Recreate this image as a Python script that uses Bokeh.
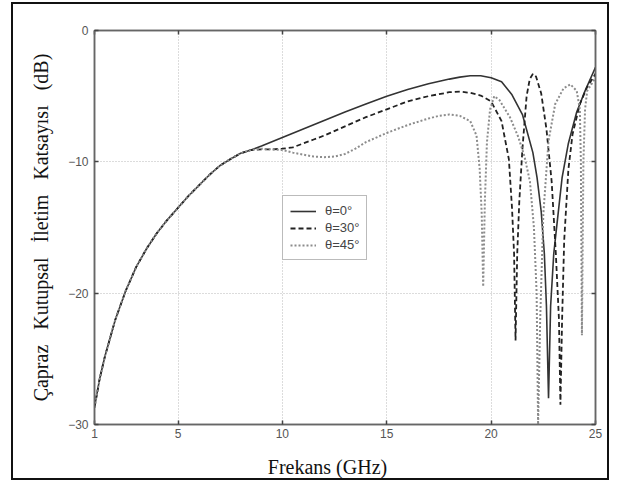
from bokeh.plotting import figure
from bokeh.models import (FixedTicker, LinearAxis, Legend, LegendItem, Range1d,
                          CustomJSTickFormatter)
from bokeh.embed import file_html
from bokeh.resources import INLINE

# ---- data ----
x_common = [1, 1.25, 1.5, 2, 2.5, 3, 3.5, 4, 4.5, 5, 5.5, 6, 6.5, 7, 7.5, 8, 8.5]
y_common = [-28.7, -26.5, -24.8, -22.0, -19.8, -18.0, -16.6, -15.4, -14.4, -13.5,
            -12.6, -11.8, -11.0, -10.3, -9.8, -9.35, -9.1]

x_t0 = [9, 10, 11, 12, 13, 14, 15, 16, 17, 18, 18.5, 19, 19.5, 20, 20.5, 21, 21.5,
        22.0, 22.2, 22.4, 22.55, 22.65, 22.75, 22.85, 23.0, 23.15, 23.4, 23.7, 24.1, 24.5, 25]
y_t0 = [-8.8, -8.15, -7.5, -6.85, -6.2, -5.6, -5.0, -4.5, -4.05, -3.7, -3.55, -3.45, -3.45,
        -3.6, -3.9, -4.9, -6.4, -9.3, -11.2, -13.8, -17.0, -21.0, -28.0, -21.0, -17.0,
        -14.8, -11.2, -8.6, -6.2, -4.6, -2.8]

x_t30 = [9, 9.5, 10, 10.5, 11, 11.5, 12, 13, 14, 15, 16, 17, 18, 18.5, 19, 19.5, 20, 20.5,
         20.85, 21.0, 21.1, 21.17, 21.25, 21.35, 21.5, 21.7, 21.85, 22.0, 22.15, 22.4, 22.65,
         22.9, 23.1, 23.25, 23.32, 23.4, 23.5, 23.7, 23.9, 24.25, 24.6, 25]
y_t30 = [-9.05, -9.05, -9.0, -8.9, -8.6, -8.3, -8.0, -7.3, -6.6, -6.0, -5.4, -5.0, -4.7,
         -4.65, -4.75, -4.95, -5.4, -6.9, -9.8, -13.5, -17.0, -23.6, -17.0, -13.0, -9.0,
         -5.0, -3.7, -3.3, -3.5, -4.8, -7.5, -11.5, -17.0, -22.0, -28.5, -22.0, -16.0,
         -10.6, -7.9, -5.6, -4.3, -3.3]

x_t45 = [9, 10, 10.5, 11, 11.5, 12, 12.5, 13, 13.5, 14, 15, 16, 17, 17.5, 18, 18.5, 19,
         19.3, 19.45, 19.55, 19.62, 19.7, 19.8, 19.95, 20.15, 20.4, 20.9, 21.3, 21.6, 21.86,
         22.05, 22.18, 22.25, 22.35, 22.5, 22.75, 23.07, 23.47, 23.8, 24.1, 24.25, 24.3,
         24.35, 24.42, 24.5, 24.6, 25]
y_t45 = [-9.0, -9.1, -9.3, -9.45, -9.6, -9.65, -9.6, -9.4, -9.0, -8.5, -7.8, -7.2, -6.7,
         -6.5, -6.4, -6.5, -6.9, -8.0, -10.5, -14.0, -19.5, -13.0, -8.5, -6.0, -5.0, -5.3,
         -6.6, -8.1, -9.6, -11.5, -15.0, -20.0, -30.0, -22.0, -14.0, -8.4, -5.6, -4.4,
         -4.1, -4.6, -6.0, -10.0, -23.2, -10.0, -6.0, -4.6, -3.6]

x_ticks = [1, 5, 10, 15, 20, 25]
y_ticks = [-30, -20, -10, 0]
legend_labels = ["θ=0°", "θ=30°", "θ=45°"]
x_title = "Frekans (GHz)"
y_words = ["Çapraz", "Kutupsal", "İletim", "Katsayısı", "(dB)"]

W, H = 598, 478
p = figure(width=W, height=H, output_backend="svg", toolbar_location=None,
           x_range=Range1d(1, 25), y_range=Range1d(-30, 0),
           min_border_left=81, min_border_right=16, min_border_top=26, min_border_bottom=58,
           styles={"border": "2px solid #111", "margin-left": "11px", "margin-top": "2px"})
p.background_fill_color = "white"
p.border_fill_color = "white"
p.outline_line_color = "#666"
p.outline_line_width = 1.5

font_sans = "Liberation Sans"
font_serif = "Liberation Serif"

for ax in (p.xaxis[0], p.yaxis[0]):
    ax.major_tick_in = 4
    ax.major_tick_out = 0
    ax.minor_tick_in = 0
    ax.minor_tick_out = 0
    ax.axis_line_color = "#666"
    ax.axis_line_width = 1.5
    ax.major_tick_line_color = "#444"
    ax.major_tick_line_width = 1.5
    ax.major_label_text_font = font_sans
    ax.major_label_text_font_size = "12px"
    ax.major_label_text_color = "#555"
    ax.axis_label_text_font = font_serif
    ax.axis_label_text_font_size = "20px"
    ax.axis_label_text_font_style = "normal"
    ax.axis_label_text_color = "#111"

p.xaxis[0].ticker = FixedTicker(ticks=x_ticks)
p.yaxis[0].ticker = FixedTicker(ticks=y_ticks)
p.xaxis[0].major_label_standoff = 4
p.yaxis[0].major_label_standoff = 6
sp = "\u00a0\u00a0\u00a0"
p.yaxis[0].axis_label = sp.join(y_words)
p.yaxis[0].axis_label_standoff = 13
# trailing no-break spaces shift the visible title a little left of centre, as in the original
p.xaxis[0].axis_label = x_title + "\u00a0" * 7
p.xaxis[0].axis_label_standoff = 15

# mirrored axes (ticks only) on top and right
for loc, tick in (("above", x_ticks), ("right", y_ticks)):
    a = LinearAxis(ticker=FixedTicker(ticks=tick),
                   formatter=CustomJSTickFormatter(code="return ''"))
    a.major_tick_in = 4
    a.major_tick_out = 0
    a.minor_tick_in = 0
    a.minor_tick_out = 0
    a.axis_line_color = "#666"
    a.axis_line_width = 1.5
    a.major_tick_line_color = "#444"
    a.major_tick_line_width = 1.5
    a.major_label_standoff = 0
    p.add_layout(a, loc)

for g in (p.xgrid[0], p.ygrid[0]):
    g.grid_line_color = "#b8b8b8"
    g.grid_line_width = 1
    g.grid_line_dash = "1 2"
p.xgrid[0].ticker = FixedTicker(ticks=x_ticks)
p.ygrid[0].ticker = FixedTicker(ticks=y_ticks)

r0 = p.line(x_common + x_t0, y_common + y_t0, line_color="#333333", line_width=1.6)
r30 = p.line(x_common + x_t30, y_common + y_t30, line_color="#222222", line_width=1.8,
             line_dash="5 3")
r45 = p.line(x_common + x_t45, y_common + y_t45, line_color="#8c8c8c", line_width=2,
             line_dash="2 2")

legend = Legend(items=[LegendItem(label=legend_labels[0], renderers=[r0]),
                       LegendItem(label=legend_labels[1], renderers=[r30]),
                       LegendItem(label=legend_labels[2], renderers=[r45])],
                location=(188, 164))
legend.border_line_color = "#777"
legend.border_line_width = 1
legend.background_fill_alpha = 1
legend.label_text_font = font_sans
legend.label_text_font_size = "13px"
legend.label_text_color = "#444"
legend.glyph_width = 26
legend.glyph_height = 14
legend.label_height = 14
legend.spacing = 2
legend.padding = 7
legend.margin = 0
legend.label_standoff = 9
p.add_layout(legend, "center")

open("out.html", "w").write(file_html(p, INLINE))
